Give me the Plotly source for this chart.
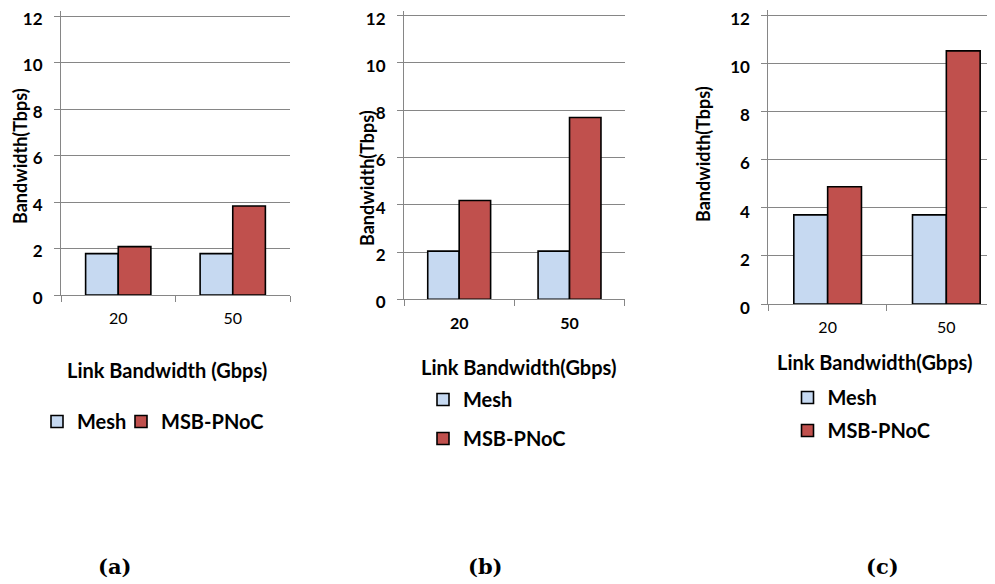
import plotly.graph_objects as go

categories = ["20", "50"]
mesh_a = [1.78, 1.78]
msb_a = [2.08, 3.83]
mesh_b = [2.04, 2.04]
msb_b = [4.18, 7.69]
mesh_c = [3.70, 3.70]
msb_c = [4.87, 10.51]
y_ticks = [0, 2, 4, 6, 8, 10, 12]
x_titles = ["Link Bandwidth (Gbps)", "Link Bandwidth(Gbps)", "Link Bandwidth(Gbps)"]
y_title = "Bandwidth(Tbps)"
panel_labels = ["(a)", "(b)", "(c)"]

OFF = 8  # page body margin
W, H = 995 - OFF, 584 - OFF
MESH_C = "#C6D9F1"
MSB_C = "#C0504D"
GRID = "#868686"
FONT = "Lato"
YMAX = 12.2

def px(x):
    return (x - OFF) / W

def py(y):
    return 1 - (y - OFF) / H

fig = go.Figure()

panels = [
    ("x", "y", "legend", "legend4", mesh_a, msb_a),
    ("x2", "y2", "legend2", "legend2", mesh_b, msb_b),
    ("x3", "y3", "legend3", "legend3", mesh_c, msb_c),
]
for i, (xa, ya, lg1, lg2, mv, sv) in enumerate(panels):
    fig.add_trace(go.Bar(x=categories, y=mv, name="Mesh", xaxis=xa, yaxis=ya, legend=lg1,
                         legendgroup=f"m{i}", showlegend=True,
                         marker=dict(color=MESH_C, line=dict(color="black", width=1.6))))
    fig.add_trace(go.Bar(x=categories, y=sv, name="MSB-PNoC", xaxis=xa, yaxis=ya, legend=lg2,
                         legendgroup=f"s{i}", showlegend=True,
                         marker=dict(color=MSB_C, line=dict(color="black", width=1.6))))

# screen pixel positions: x extent, zero line, 12 line
doms = [
    dict(x=(61, 290), y0=295, y12=16, xr=[-0.5, 1.5], tickbold=False, shift=3),
    dict(x=(404, 624.7), y0=299.3, y12=15.7, xr=[-0.5, 1.5], tickbold=True, shift=3),
    dict(x=(768.3, 995), y0=304, y12=15, xr=[-0.5, 1.41], tickbold=False, shift=4),
]
for i, d in enumerate(doms):
    sfx = "" if i == 0 else str(i + 1)
    top = d["y0"] - (d["y0"] - d["y12"]) * YMAX / 12
    fig.layout["xaxis" + sfx] = dict(
        domain=[px(d["x"][0]), min(1, px(d["x"][1]))], anchor="y" + sfx, type="category",
        range=d["xr"], showline=True, linecolor=GRID, linewidth=1,
        ticks="outside", tickson="boundaries", ticklen=6, tickcolor=GRID, tickwidth=1,
        showgrid=False, ticklabelstandoff=9,
        tickfont=dict(family=FONT, size=16, color="black", weight="bold" if d["tickbold"] else "normal"),
    )
    fig.layout["yaxis" + sfx] = dict(
        domain=[py(d["y0"]), min(1, py(top))], anchor="x" + sfx, range=[0, YMAX],
        tickvals=y_ticks, showline=True, linecolor=GRID, linewidth=1,
        ticks="outside", ticklen=6, tickcolor=GRID, tickwidth=1, ticklabeloverflow="allow",
        showgrid=True, gridcolor=GRID, gridwidth=1, zeroline=False, ticklabelstandoff=8,
        ticklabelshift=d["shift"],
        tickfont=dict(family=FONT, size=17, color="black", weight="bold"),
    )

leg_font = dict(family=FONT, size=20, color="black", weight="bold")
common = dict(xanchor="left", yanchor="top", font=leg_font, bgcolor="rgba(0,0,0,0)", itemwidth=30)
fig.update_layout(
    width=W, height=H, margin=dict(l=0, r=0, t=0, b=0, autoexpand=False),
    paper_bgcolor="white", plot_bgcolor="white", showlegend=True,
    barmode="group", bargap=0.43, bargroupgap=0,
    legend=dict(orientation="v", x=px(37), y=py(402), **common),
    legend4=dict(orientation="v", x=px(121), y=py(402), **common),
    legend2=dict(orientation="v", x=px(423), y=py(380), tracegroupgap=10, **common),
    legend3=dict(orientation="v", x=px(787.5), y=py(378), tracegroupgap=4, **common),
)

ann = []
xt_pos = [(167, 370), (518, 367), (874, 362)]
yt_pos = [(20, 156), (367, 178), (703, 154)]
lab_pos = [(114.5, 566), (485, 566), (882, 566)]
for i in range(3):
    ann.append(dict(text=x_titles[i], x=px(xt_pos[i][0]), y=py(xt_pos[i][1]), xref="paper", yref="paper",
                    showarrow=False, xanchor="center", yanchor="middle",
                    font=dict(family=FONT, size=20, color="black", weight="bold")))
    ann.append(dict(text=y_title, x=px(yt_pos[i][0]), y=py(yt_pos[i][1]), xref="paper", yref="paper",
                    showarrow=False, xanchor="center", yanchor="middle", textangle=-90,
                    font=dict(family=FONT, size=18, color="black", weight="bold")))
    ann.append(dict(text=panel_labels[i], x=px(lab_pos[i][0]), y=py(lab_pos[i][1]), xref="paper", yref="paper",
                    showarrow=False, xanchor="center", yanchor="middle",
                    font=dict(family="DejaVu Serif", size=21, color="black", weight="bold")))
fig.update_layout(annotations=ann)

fig.write_html("out.html")
